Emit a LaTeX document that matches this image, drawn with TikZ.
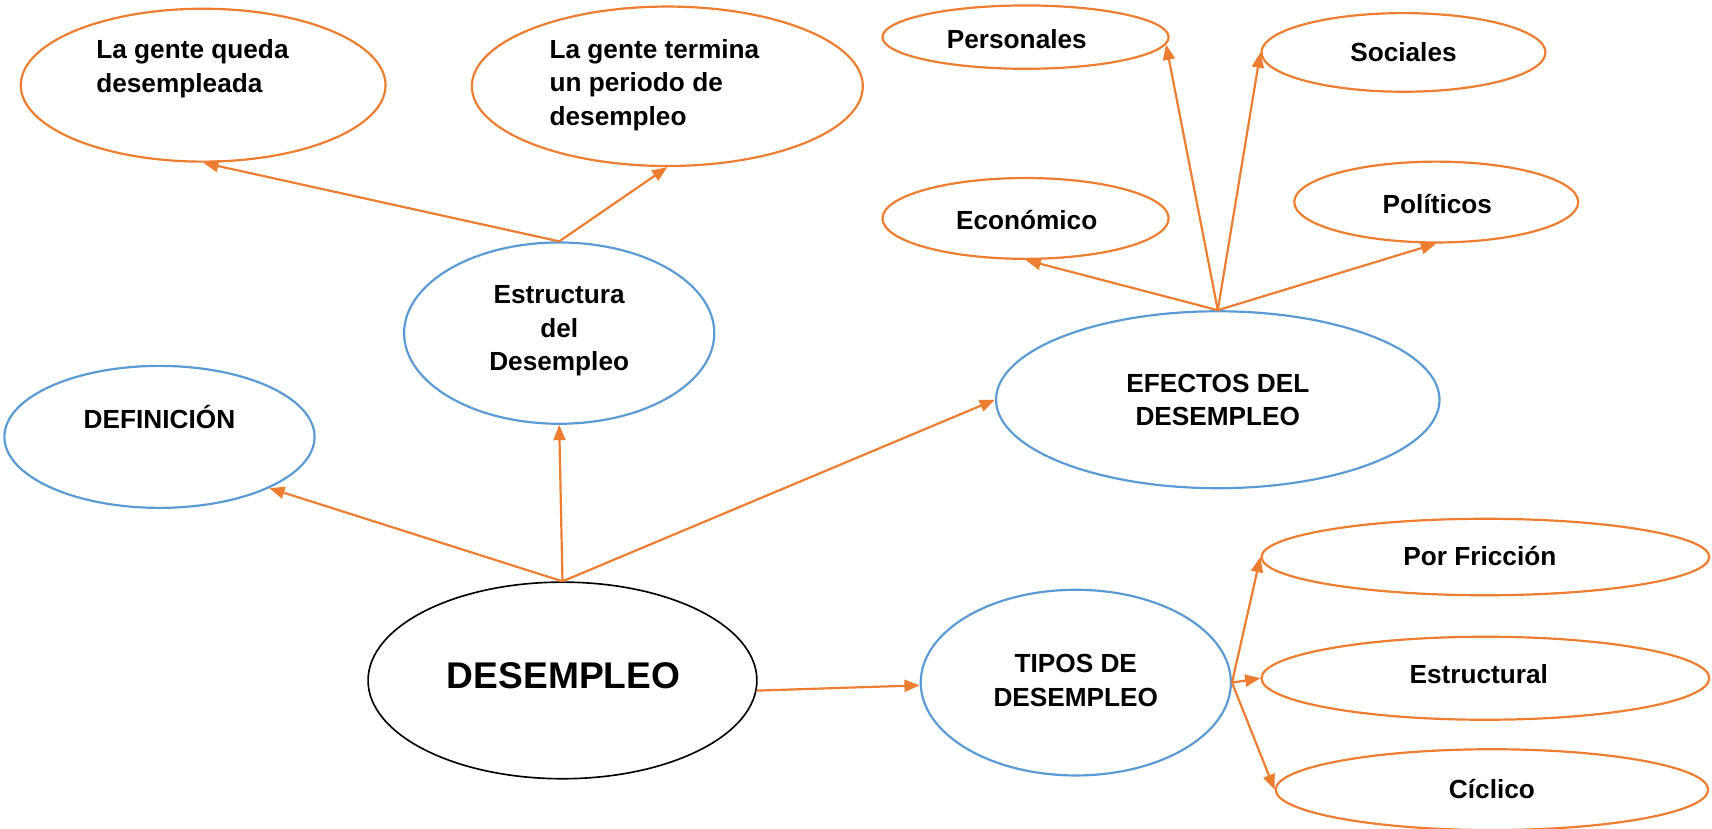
\documentclass[tikz,border=0pt]{standalone}
\usepackage{fontspec}
\setmainfont{Liberation Sans}
\usetikzlibrary{shapes.geometric,arrows.meta}
\definecolor{orng}{HTML}{ED7D31}
\definecolor{blu}{HTML}{5B9BD5}
\begin{document}
\begin{tikzpicture}[x=1pt,y=-1pt,
  oval/.style={ellipse, line width=2pt, inner sep=0pt, fill=white},
  obub/.style={oval, draw=orng},
  bbub/.style={oval, draw=blu},
  kbub/.style={oval, draw=black, line width=1.5pt},
  lbl/.style={font=\bfseries\fontsize{24}{30.5}\selectfont, inner sep=0pt, align=center},
  biglbl/.style={font=\bfseries\fontsize{34}{40}\selectfont, inner sep=0pt},
  conn/.style={draw=orng, line width=2pt, -{Triangle[length=14pt,width=11pt]}}]
\useasboundingbox (0,0) rectangle (1567.5,759);
% ellipses
\node[obub, minimum width=334pt, minimum height=140pt] (queda) at (186,78) {};
\node[obub, minimum width=358pt, minimum height=146pt] (termina) at (611,79) {};
\node[obub, minimum width=262pt, minimum height=58pt] (pers) at (939,34) {};
\node[obub, minimum width=260pt, minimum height=72pt] (soc) at (1285,48) {};
\node[obub, minimum width=262pt, minimum height=74pt] (econ) at (939,200) {};
\node[obub, minimum width=260pt, minimum height=74pt] (pol) at (1315,185) {};
\node[bbub, minimum width=284pt, minimum height=166pt] (estr) at (512,305) {};
\node[bbub, minimum width=406pt, minimum height=162pt] (efec) at (1115,366) {};
\node[bbub, minimum width=284pt, minimum height=130pt] (defin) at (146,400) {};
\node[kbub, minimum width=356pt, minimum height=180pt] (desem) at (515,623) {};
\node[bbub, minimum width=284pt, minimum height=170pt] (tipos) at (985,625) {};
\node[obub, minimum width=410pt, minimum height=70pt] (fric) at (1360,510) {};
\node[obub, minimum width=410pt, minimum height=76pt] (estruc) at (1360,621) {};
\node[obub, minimum width=396pt, minimum height=74pt] (cicl) at (1366,723) {};
% labels
\node[lbl, align=left, anchor=west] (tqueda) at (88,63) {La gente queda\\desempleada};
\node[lbl, align=left, anchor=west] (ttermina) at (503,78) {La gente termina\\un periodo de\\desempleo};
\node[lbl] (tpers) at (931,36) {Personales};
\node[lbl] (tsoc) at (1285,48) {Sociales};
\node[lbl] (tecon) at (940,201) {Económico};
\node[lbl] (tpol) at (1316,187) {Políticos};
\node[lbl] (testr) at (512,303) {Estructura\\del\\Desempleo};
\node[lbl] (tefec) at (1115,366) {EFECTOS DEL\\DESEMPLEO};
\node[lbl] (tdefin) at (146,382) {DEFINICIÓN};
\node[biglbl] (tdesem) at (516,619) {DESEMPLEO};
\node[lbl] (ttipos) at (985,623) {TIPOS DE\\DESEMPLEO};
\node[lbl] (tfric) at (1355,509) {Por Fricción};
\node[lbl] (testruc) at (1354,617) {Estructural};
\node[lbl] (tcicl) at (1366,722) {Cíclico};
% connectors
\draw[conn] (desem.north) -- (defin.-25);
\draw[conn] (desem.north) -- (estr.south);
\draw[conn] (desem.north) -- (efec.west);
\draw[conn] (desem.-3) -- (tipos.181);
\draw[conn] (estr.north) -- (queda.south);
\draw[conn] (estr.north) -- (termina.south);
\draw[conn] (efec.north) -- (pers.-3);
\draw[conn] (efec.north) -- (soc.west);
\draw[conn] (efec.north) -- (econ.south);
\draw[conn] (efec.north) -- (pol.south);
\draw[conn] (tipos.east) -- (fric.west);
\draw[conn] (tipos.east) -- (estruc.west);
\draw[conn] (tipos.east) -- (cicl.west);
\end{tikzpicture}
\end{document}
